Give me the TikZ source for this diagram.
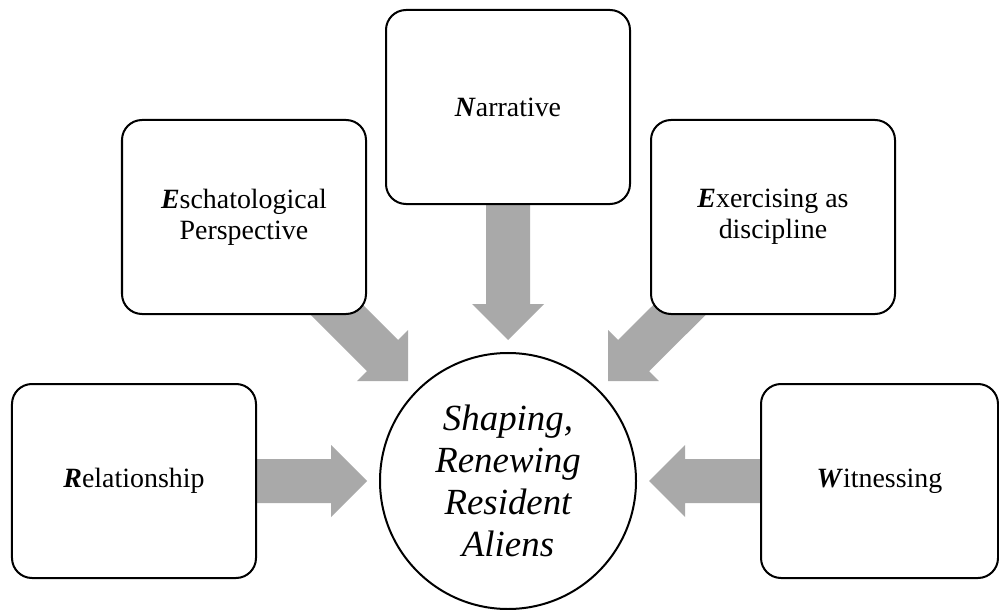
\documentclass[tikz,border=0pt]{standalone}
\usepackage{fontspec}
\setmainfont{Liberation Serif}
\usetikzlibrary{calc,backgrounds}
\definecolor{arrowgray}{HTML}{A9A9A9}
\tikzset{
  boxnode/.style={draw=black, line width=2bp, rounded corners=20bp, fill=white,
    minimum width=244bp, minimum height=194bp, inner sep=0pt, align=center,
    font=\fontsize{28}{31}\selectfont},
  hubnode/.style={draw=black, line width=2bp, circle, fill=white,
    minimum size=256bp, inner sep=0pt, align=center,
    font=\fontsize{37}{42}\selectfont\itshape}
}
\newcommand{\blockarrow}[2]{%
  \coordinate (hb) at ($(#2)!36bp!(#1)$);
  \fill[arrowgray] ($(#1)!22bp!90:(#2)$) -- ($(hb)!22bp!-90:(#1)$) --
    ($(hb)!36bp!-90:(#1)$) -- (#2) -- ($(hb)!36bp!90:(#1)$) --
    ($(hb)!22bp!90:(#1)$) -- ($(#1)!22bp!-90:(#2)$) -- cycle;
}
\newcommand{\ini}[1]{\textbf{\textit{#1}}}
\begin{document}
\begin{tikzpicture}[x=1bp,y=-1bp]
\useasboundingbox (0,0) rectangle (999,610);
\node[hubnode] (hub) at (508,481) {Shaping,\\Renewing\\Resident\\Aliens};
\node[boxnode] (narr) at (508,107) {\ini{N}arrative};
\node[boxnode] (esch) at (244,217) {\ini{E}schatological\\Perspective};
\node[boxnode] (exer) at (773,217) {\ini{E}xercising as\\discipline};
\node[boxnode] (rel) at (134,481) {\ini{R}elationship};
\node[boxnode, minimum width=237bp] (wit) at (879.5,481) {\ini{W}itnessing};
\coordinate (tnarr) at (508,340);
\coordinate (tesch) at (408,381);
\coordinate (texer) at (608,381);
\coordinate (trel) at (367,481);
\coordinate (twit) at (649,481);
\begin{scope}[on background layer]
  \fill[white] (0,0) rectangle (999,610);
  \blockarrow{narr.center}{tnarr}
  \blockarrow{esch.center}{tesch}
  \blockarrow{exer.center}{texer}
  \blockarrow{rel.center}{trel}
  \blockarrow{wit.center}{twit}
\end{scope}
\end{tikzpicture}
\end{document}
